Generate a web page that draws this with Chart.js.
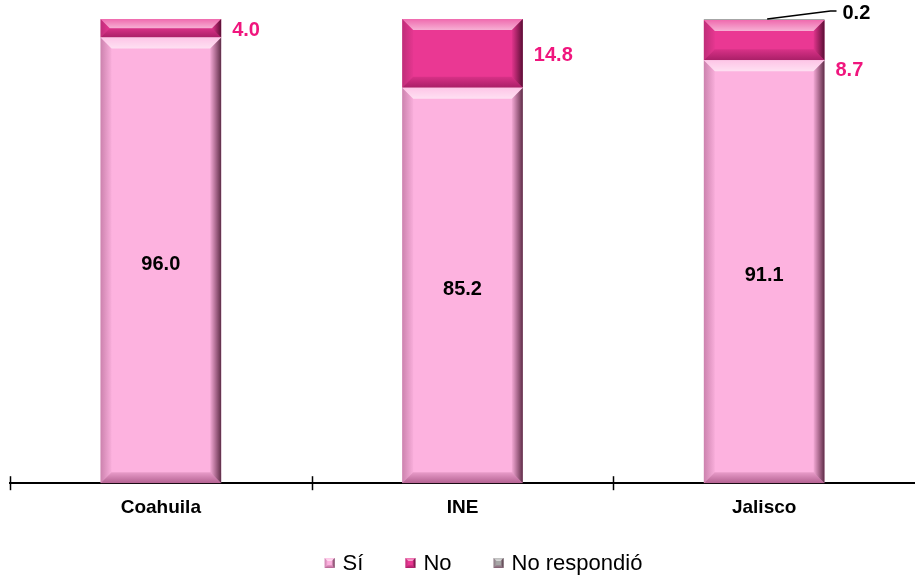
<!DOCTYPE html>
<html>
<head>
<meta charset="utf-8">
<script src="https://cdn.jsdelivr.net/npm/chart.js@4.4.0/dist/chart.umd.min.js"></script>
<style>
  html, body { margin: 0; padding: 0; background: #fff; }
  #wrap { width: 915px; height: 579px; }
</style>
</head>
<body>
<div id="wrap"><canvas id="chart"></canvas></div>
<script>
const categories = ["Coahuila", "INE", "Jalisco"];
const siValues = [96.0, 85.2, 91.1];
const noValues = [4.0, 14.8, 8.7];
const nrValues = [0, 0, 0.2];

const SI_COLOR = "#FDB2DF";
const NO_COLOR = "#EA3893";
const NR_COLOR = "#A6A6A6";
const LABEL_PINK = "#F0167E";
const FONT = "'Liberation Sans', Arial, sans-serif";

function bevel(ctx, x0, y0, x1, y1, b) {
  const h = y1 - y0;
  if (h < 1) return;
  b = Math.min(b, h / 2);
  ctx.save();
  // top bevel (light)
  let g = ctx.createLinearGradient(0, y0, 0, y0 + b);
  g.addColorStop(0, "rgba(255,255,255,0.25)");
  g.addColorStop(1, "rgba(255,255,255,0.6)");
  ctx.fillStyle = g;
  ctx.beginPath();
  ctx.moveTo(x0, y0); ctx.lineTo(x1, y0); ctx.lineTo(x1 - b, y0 + b); ctx.lineTo(x0 + b, y0 + b);
  ctx.closePath(); ctx.fill();
  // bottom bevel (dark)
  g = ctx.createLinearGradient(0, y1 - b, 0, y1);
  g.addColorStop(0, "rgba(90,0,50,0.12)");
  g.addColorStop(1, "rgba(90,0,50,0.45)");
  ctx.fillStyle = g;
  ctx.beginPath();
  ctx.moveTo(x0, y1); ctx.lineTo(x1, y1); ctx.lineTo(x1 - b, y1 - b); ctx.lineTo(x0 + b, y1 - b);
  ctx.closePath(); ctx.fill();
  // left bevel
  g = ctx.createLinearGradient(x0, 0, x0 + b, 0);
  g.addColorStop(0, "rgba(90,20,60,0.3)");
  g.addColorStop(1, "rgba(90,20,60,0.03)");
  ctx.fillStyle = g;
  ctx.beginPath();
  ctx.moveTo(x0, y0); ctx.lineTo(x0 + b, y0 + b); ctx.lineTo(x0 + b, y1 - b); ctx.lineTo(x0, y1);
  ctx.closePath(); ctx.fill();
  // right bevel
  g = ctx.createLinearGradient(x1 - b, 0, x1, 0);
  g.addColorStop(0, "rgba(60,0,30,0.05)");
  g.addColorStop(1, "rgba(40,0,20,0.75)");
  ctx.fillStyle = g;
  ctx.beginPath();
  ctx.moveTo(x1, y0); ctx.lineTo(x1 - b, y0 + b); ctx.lineTo(x1 - b, y1 - b); ctx.lineTo(x1, y1);
  ctx.closePath(); ctx.fill();
  ctx.restore();
}

const bevelPlugin = {
  id: "bevel",
  afterDatasetDraw(chart, args) {
    args.meta.data.forEach(el => {
      const x0 = el.x - el.width / 2, x1 = el.x + el.width / 2;
      const y0 = Math.min(el.y, el.base), y1 = Math.max(el.y, el.base);
      bevel(chart.ctx, x0, y0, x1, y1, 11);
    });
  }
};

const labelPlugin = {
  id: "labels",
  afterDatasetsDraw(chart) {
    const ctx = chart.ctx;
    const siMeta = chart.getDatasetMeta(0);
    const noMeta = chart.getDatasetMeta(1);
    const nrMeta = chart.getDatasetMeta(2);
    ctx.save();
    ctx.font = "bold 20px " + FONT;
    ctx.textBaseline = "middle";
    siMeta.data.forEach((el, i) => {
      ctx.fillStyle = "#000";
      ctx.textAlign = "center";
      ctx.fillText(siValues[i].toFixed(1), el.x, (el.y + el.base) / 2 + 4);
    });
    noMeta.data.forEach((el, i) => {
      const right = el.x + el.width / 2;
      let y = (el.y + el.base) / 2 + 2;
      if (nrValues[i] > 0) y += 28;
      ctx.fillStyle = LABEL_PINK;
      ctx.textAlign = "left";
      ctx.fillText(noValues[i].toFixed(1), right + 11, y);
    });
    nrMeta.data.forEach((el, i) => {
      if (!(nrValues[i] > 0)) return;
      const right = el.x + el.width / 2;
      ctx.strokeStyle = "#000";
      ctx.lineWidth = 1.5;
      ctx.beginPath();
      ctx.moveTo(el.x + 3, el.y);
      ctx.lineTo(right + 6, el.y - 8);
      ctx.lineTo(right + 12, el.y - 8);
      ctx.stroke();
      ctx.fillStyle = "#000";
      ctx.textAlign = "left";
      ctx.fillText(nrValues[i].toFixed(1), right + 18, el.y - 6);
    });
    // axis tick marks through the baseline
    const xs = chart.scales.x;
    const yb = chart.chartArea.bottom;
    ctx.strokeStyle = "#000";
    ctx.lineWidth = 1.5;
    for (let i = 0; i <= categories.length; i++) {
      const x = xs.left + (xs.right - xs.left) * i / categories.length;
      if (x > chart.width - 1) continue;
      ctx.beginPath();
      ctx.moveTo(Math.round(x) + 0.5, yb - 7);
      ctx.lineTo(Math.round(x) + 0.5, yb + 7);
      ctx.stroke();
    }
    // legend
    const items = chart.data.datasets.map(d => ({ text: d.label, color: d.backgroundColor }));
    ctx.font = "22px " + FONT;
    const box = 10, gapText = 8, gapItem = 42;
    let total = 0;
    items.forEach((it, i) => {
      it.w = ctx.measureText(it.text).width;
      total += box + gapText + it.w + (i < items.length - 1 ? gapItem : 0);
    });
    let lx = chart.width / 2 + 26 - total / 2;
    const ly = 563;
    items.forEach(it => {
      ctx.fillStyle = it.color;
      ctx.fillRect(lx, ly - 5, box, box);
      bevel(ctx, lx, ly - 5, lx + box, ly + 5, 3);
      ctx.fillStyle = "#000";
      ctx.textAlign = "left";
      ctx.textBaseline = "middle";
      ctx.fillText(it.text, lx + box + gapText, ly + 1);
      lx += box + gapText + it.w + gapItem;
    });
    ctx.restore();
  }
};

new Chart(document.getElementById("chart"), {
  type: "bar",
  data: {
    labels: categories,
    datasets: [
      { label: "Sí", data: siValues, backgroundColor: SI_COLOR },
      { label: "No", data: noValues, backgroundColor: NO_COLOR },
      { label: "No respondió", data: nrValues, backgroundColor: NR_COLOR }
    ]
  },
  options: {
    responsive: true,
    maintainAspectRatio: false,
    animation: false,
    layout: { padding: { left: 10, right: 0, top: 19, bottom: 47 } },
    datasets: { bar: { barPercentage: 1, categoryPercentage: 0.4 } },
    scales: {
      x: {
        stacked: true,
        grid: { display: false, drawTicks: false },
        border: { display: true, color: "#000", width: 2 },
        ticks: {
          color: "#000",
          padding: 13,
          font: { family: FONT, size: 19, weight: "bold" }
        }
      },
      y: {
        stacked: true,
        min: 0,
        max: 100,
        display: false
      }
    },
    plugins: {
      legend: { display: false },
      tooltip: { enabled: false }
    }
  },
  plugins: [bevelPlugin, labelPlugin]
});
</script>
</body>
</html>
